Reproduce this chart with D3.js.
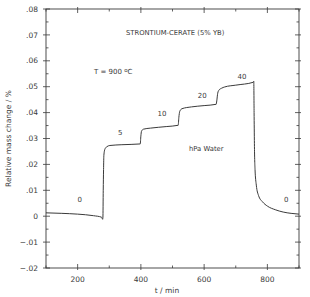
<!DOCTYPE html>
<html>
<head>
<meta charset="utf-8">
<script src="https://cdn.jsdelivr.net/npm/d3@7"></script>
<style>
  body { margin: 0; background: #fff; }
  text { font-family: "DejaVu Sans", sans-serif; fill: #3a3a3a; }
</style>
</head>
<body>
<div id="chart"></div>
<script>
// Data: time (min) and relative mass change (%)
const times = [100, 150, 200, 250, 276, 279, 280, 281, 282, 283, 286, 292, 302, 340, 398,
  400, 402, 408, 430, 480, 518,
  520, 523, 530, 560, 600, 638,
  640, 643, 647, 655, 665, 700, 755, 757,
  758, 759, 761, 765, 772, 785, 800, 825, 850, 875, 900];
const massChange = [0.0013, 0.0011, 0.0008, 0.0002, -0.0004, -0.0012, -0.0004, 0.010, 0.018, 0.0235, 0.0258, 0.0268, 0.0273, 0.0276, 0.0279,
  0.031, 0.0328, 0.0336, 0.034, 0.0346, 0.0351,
  0.038, 0.0405, 0.0415, 0.0422, 0.0427, 0.0432,
  0.0445, 0.0475, 0.0487, 0.0494, 0.0499, 0.0506, 0.0517, 0.0521,
  0.040, 0.028, 0.018, 0.012, 0.008, 0.0055, 0.0039, 0.0025, 0.0016, 0.0011, 0.0008];

// Step labels (hPa water) and where they sit
const stepLabels = ["0", "5", "10", "20", "40", "0"];
const stepLabelT = [207, 335, 467, 594, 720, 860];
const stepLabelV = [0.0055, 0.0315, 0.0385, 0.0457, 0.053, 0.0055];

const xTicks = [200, 400, 600, 800];
const yTicks = [-0.02, -0.01, 0, 0.01, 0.02, 0.03, 0.04, 0.05, 0.06, 0.07, 0.08];

const width = 310, height = 297;
const margin = {left: 46, right: 11, top: 9, bottom: 29};

const x = d3.scaleLinear().domain([100, 900]).range([margin.left, width - margin.right]);
const y = d3.scaleLinear().domain([-0.02, 0.08]).range([height - margin.bottom, margin.top]);

const svg = d3.select("#chart").append("svg")
  .attr("width", width)
  .attr("height", height);

const ink = "#3a3a3a";

// Frame
svg.append("rect")
  .attr("x", x(100)).attr("y", y(0.08))
  .attr("width", x(900) - x(100)).attr("height", y(-0.02) - y(0.08))
  .attr("fill", "none").attr("stroke", ink).attr("stroke-width", 0.9);

// X ticks, bottom and top
const xMinor = d3.range(100, 901, 100);
xMinor.forEach(t => {
  const major = xTicks.includes(t);
  const inLen = major ? 4 : 2.5;
  svg.append("line").attr("x1", x(t)).attr("x2", x(t))
    .attr("y1", y(-0.02) + (major ? 2 : 0)).attr("y2", y(-0.02) - inLen)
    .attr("stroke", ink).attr("stroke-width", 0.8);
  svg.append("line").attr("x1", x(t)).attr("x2", x(t))
    .attr("y1", y(0.08) - (major ? 2 : 0)).attr("y2", y(0.08) + inLen)
    .attr("stroke", ink).attr("stroke-width", 0.8);
});
svg.selectAll(".xlab").data(xTicks).enter().append("text")
  .attr("x", d => x(d)).attr("y", y(-0.02) + 14)
  .attr("text-anchor", "middle").attr("font-size", 7.5)
  .text(d => d);

// Y ticks, left and right
const yMinor = d3.range(-0.02, 0.0801, 0.005);
yMinor.forEach(v => {
  const major = yTicks.some(t => Math.abs(t - v) < 1e-9);
  const inLen = major ? 4 : 2.5;
  svg.append("line").attr("y1", y(v)).attr("y2", y(v))
    .attr("x1", x(100) - (major ? 3 : 0)).attr("x2", x(100) + inLen)
    .attr("stroke", ink).attr("stroke-width", 0.8);
  svg.append("line").attr("y1", y(v)).attr("y2", y(v))
    .attr("x1", x(900) + (major ? 2 : 0)).attr("x2", x(900) - inLen)
    .attr("stroke", ink).attr("stroke-width", 0.8);
});
const yFmt = v => v === 0 ? "0" : (v < 0 ? "\u2212" : "") + d3.format(".2f")(Math.abs(v)).replace(/^0/, "");
svg.selectAll(".ylab").data(yTicks).enter().append("text")
  .attr("x", x(100) - 8).attr("y", d => y(d)).attr("dy", "0.35em")
  .attr("text-anchor", "end").attr("font-size", 7.5)
  .text(yFmt);

// Axis titles
svg.append("text")
  .attr("transform", `translate(8,${(y(0.08) + y(-0.02)) / 2}) rotate(-90)`)
  .attr("text-anchor", "middle").attr("dy", "0.35em").attr("font-size", 7.5)
  .text("Relative mass change / %");
svg.append("text")
  .attr("x", 167).attr("y", 293)
  .attr("text-anchor", "middle").attr("font-size", 7.5)
  .text("t / min");

// Curve
const points = times.map((t, i) => [t, massChange[i]]);
svg.append("path")
  .datum(points)
  .attr("fill", "none").attr("stroke", ink).attr("stroke-width", 1)
  .attr("d", d3.line().x(d => x(d[0])).y(d => y(d[1])).curve(d3.curveMonotoneX));

// Annotations
svg.selectAll(".step").data(stepLabels).enter().append("text")
  .attr("x", (d, i) => x(stepLabelT[i])).attr("y", (d, i) => y(stepLabelV[i]))
  .attr("text-anchor", "middle").attr("font-size", 7)
  .text(d => d);

svg.append("text").attr("x", 126).attr("y", 35).attr("font-size", 6.8)
  .text("STRONTIUM-CERATE (5% YB)");

const tt = svg.append("text").attr("x", 94).attr("y", 74).attr("font-size", 7);
tt.append("tspan").text("T = 900 ");
tt.append("tspan").attr("dy", -2.5).attr("font-size", 5.5).text("o");
tt.append("tspan").attr("dy", 2.5).text("C");

svg.append("text").attr("x", 189).attr("y", 151).attr("font-size", 6.8)
  .text("hPa Water");
</script>
</body>
</html>
